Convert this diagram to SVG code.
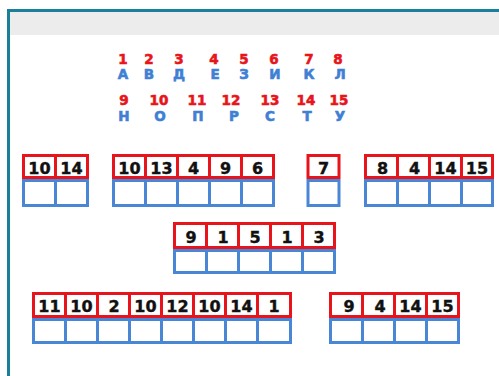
<svg xmlns="http://www.w3.org/2000/svg" width="499" height="376" viewBox="0 0 499 376">
<style>
.num{font-family:"DejaVu Sans","Liberation Sans",sans-serif;font-weight:bold;font-size:13.5px;fill:#e8141c;stroke:#e8141c;stroke-width:0.6;text-anchor:middle}
.let{font-family:"DejaVu Sans","Liberation Sans",sans-serif;font-weight:bold;font-size:13.5px;fill:#3f80d4;stroke:#3f80d4;stroke-width:0.6;text-anchor:middle}
.r{fill:#fff;stroke:#e8141c;stroke-width:3}
.b{fill:#fff;stroke:#4a86d6;stroke-width:3}
.t{font-family:"DejaVu Sans","Liberation Sans",sans-serif;font-weight:bold;font-size:16px;fill:#111;stroke:#111;stroke-width:0.4;text-anchor:middle}
</style>
<rect x="0" y="0" width="499" height="376" fill="#fff"/>
<g id="frame">
<rect x="10" y="12" width="489" height="23" fill="#ececec"/>
<rect x="7" y="9" width="492" height="3" fill="#1a7f9a"/>
<rect x="7" y="9" width="3" height="367" fill="#1a7f9a"/>
</g>
<g id="legend">
<text class="num" x="123" y="63.5">1</text><text class="num" x="149" y="63.5">2</text><text class="num" x="179" y="63.5">3</text><text class="num" x="214" y="63.5">4</text><text class="num" x="244" y="63.5">5</text><text class="num" x="274" y="63.5">6</text><text class="num" x="309" y="63.5">7</text><text class="num" x="338" y="63.5">8</text>
<text class="let" x="123" y="79.4">А</text><text class="let" x="149" y="79.4">В</text><text class="let" x="179" y="79.4">Д</text><text class="let" x="215" y="79.4">Е</text><text class="let" x="244" y="79.4">З</text><text class="let" x="275" y="79.4">И</text><text class="let" x="309" y="79.4">К</text><text class="let" x="340" y="79.4">Л</text>
<text class="num" x="124" y="105">9</text><text class="num" x="159" y="105">10</text><text class="num" x="197" y="105">11</text><text class="num" x="231" y="105">12</text><text class="num" x="270" y="105">13</text><text class="num" x="306" y="105">14</text><text class="num" x="339" y="105">15</text>
<text class="let" x="124" y="120.9">Н</text><text class="let" x="160" y="120.9">О</text><text class="let" x="198" y="120.9">П</text><text class="let" x="234" y="120.9">Р</text><text class="let" x="270" y="120.9">С</text><text class="let" x="307" y="120.9">Т</text><text class="let" x="340" y="120.9">У</text>
</g>
<g id="word1">
<rect class="b" x="23.5" y="180.5" width="32" height="25"/><rect class="b" x="55.5" y="180.5" width="32" height="25"/>
<rect class="r" x="23.5" y="155.5" width="32" height="22"/><rect class="r" x="55.5" y="155.5" width="32" height="22"/>
<text class="t" x="39.5" y="173.5">10</text><text class="t" x="71.5" y="173.5">14</text>
</g>
<g id="word2">
<rect class="b" x="113.5" y="180.5" width="32" height="25"/><rect class="b" x="145.5" y="180.5" width="32" height="25"/><rect class="b" x="177.5" y="180.5" width="32" height="25"/><rect class="b" x="209.5" y="180.5" width="32" height="25"/><rect class="b" x="241.5" y="180.5" width="32" height="25"/>
<rect class="r" x="113.5" y="155.5" width="32" height="22"/><rect class="r" x="145.5" y="155.5" width="32" height="22"/><rect class="r" x="177.5" y="155.5" width="32" height="22"/><rect class="r" x="209.5" y="155.5" width="32" height="22"/><rect class="r" x="241.5" y="155.5" width="32" height="22"/>
<text class="t" x="129.5" y="173.5">10</text><text class="t" x="161.5" y="173.5">13</text><text class="t" x="193.5" y="173.5">4</text><text class="t" x="225.5" y="173.5">9</text><text class="t" x="257.5" y="173.5">6</text>
</g>
<g id="word3">
<rect class="b" x="308" y="180.5" width="31" height="25"/>
<rect class="r" x="308" y="155.5" width="31" height="22"/>
<text class="t" x="323.5" y="173.5">7</text>
</g>
<g id="word4">
<rect class="b" x="365.5" y="180.5" width="32" height="25"/><rect class="b" x="397.5" y="180.5" width="32" height="25"/><rect class="b" x="429.5" y="180.5" width="32" height="25"/><rect class="b" x="461.5" y="180.5" width="31" height="25"/>
<rect class="r" x="365.5" y="155.5" width="32" height="22"/><rect class="r" x="397.5" y="155.5" width="32" height="22"/><rect class="r" x="429.5" y="155.5" width="32" height="22"/><rect class="r" x="461.5" y="155.5" width="31" height="22"/>
<text class="t" x="382.5" y="173.5">8</text><text class="t" x="414.5" y="173.5">4</text><text class="t" x="445.5" y="173.5">14</text><text class="t" x="477" y="173.5">15</text>
</g>
<g id="word5">
<rect class="b" x="174.5" y="250.5" width="32" height="22"/><rect class="b" x="206.5" y="250.5" width="32" height="22"/><rect class="b" x="238.5" y="250.5" width="32" height="22"/><rect class="b" x="270.5" y="250.5" width="32" height="22"/><rect class="b" x="302.5" y="250.5" width="32" height="22"/>
<rect class="r" x="174.5" y="223.5" width="32" height="24"/><rect class="r" x="206.5" y="223.5" width="32" height="24"/><rect class="r" x="238.5" y="223.5" width="32" height="24"/><rect class="r" x="270.5" y="223.5" width="32" height="24"/><rect class="r" x="302.5" y="223.5" width="32" height="24"/>
<text class="t" x="191" y="242.5">9</text><text class="t" x="223" y="242.5">1</text><text class="t" x="255" y="242.5">5</text><text class="t" x="287" y="242.5">1</text><text class="t" x="319" y="242.5">3</text>
</g>
<g id="word6">
<rect class="b" x="33.5" y="319.5" width="32" height="23"/><rect class="b" x="65.5" y="319.5" width="32" height="23"/><rect class="b" x="97.5" y="319.5" width="32" height="23"/><rect class="b" x="129.5" y="319.5" width="32" height="23"/><rect class="b" x="161.5" y="319.5" width="32" height="23"/><rect class="b" x="193.5" y="319.5" width="32" height="23"/><rect class="b" x="225.5" y="319.5" width="32" height="23"/><rect class="b" x="257.5" y="319.5" width="33" height="23"/>
<rect class="r" x="33.5" y="293.5" width="32" height="23"/><rect class="r" x="65.5" y="293.5" width="32" height="23"/><rect class="r" x="97.5" y="293.5" width="32" height="23"/><rect class="r" x="129.5" y="293.5" width="32" height="23"/><rect class="r" x="161.5" y="293.5" width="32" height="23"/><rect class="r" x="193.5" y="293.5" width="32" height="23"/><rect class="r" x="225.5" y="293.5" width="32" height="23"/><rect class="r" x="257.5" y="293.5" width="33" height="23"/>
<text class="t" x="49.5" y="311.5">11</text><text class="t" x="81.5" y="311.5">10</text><text class="t" x="114" y="311.5">2</text><text class="t" x="145.5" y="311.5">10</text><text class="t" x="177.5" y="311.5">12</text><text class="t" x="209.5" y="311.5">10</text><text class="t" x="241.5" y="311.5">14</text><text class="t" x="274" y="311.5">1</text>
</g>
<g id="word7">
<rect class="b" x="330.5" y="319.5" width="32" height="23"/><rect class="b" x="362.5" y="319.5" width="32" height="23"/><rect class="b" x="394.5" y="319.5" width="32" height="23"/><rect class="b" x="426.5" y="319.5" width="32" height="23"/>
<rect class="r" x="330.5" y="293.5" width="32" height="23"/><rect class="r" x="362.5" y="293.5" width="32" height="23"/><rect class="r" x="394.5" y="293.5" width="32" height="23"/><rect class="r" x="426.5" y="293.5" width="32" height="23"/>
<text class="t" x="349" y="311.5">9</text><text class="t" x="380" y="311.5">4</text><text class="t" x="410.5" y="311.5">14</text><text class="t" x="442.5" y="311.5">15</text>
</g>
</svg>
